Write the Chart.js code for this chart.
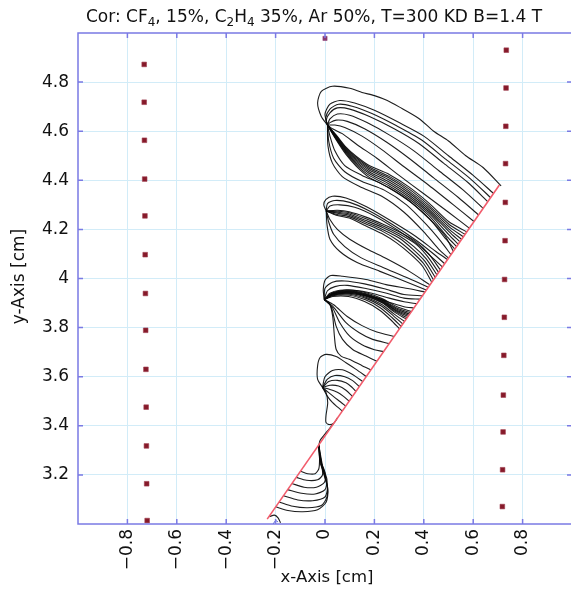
<!DOCTYPE html>
<html>
<head>
<meta charset="utf-8">
<title>Drift lines</title>
<script src="https://cdn.jsdelivr.net/npm/chart.js@4.4.1/dist/chart.umd.min.js"></script>
<style>
  html, body { margin: 0; padding: 0; background: #fff; overflow: hidden; }
  #wrap { width: 580px; height: 600px; }
</style>
</head>
<body>
<div id="wrap"><canvas id="chart"></canvas></div>
<script>
// axis ticks and their labels
const xTicks = [-0.8, -0.6, -0.4, -0.2, 0, 0.2, 0.4, 0.6, 0.8];
const xTickLabels = ["\u22120.8", "\u22120.6", "\u22120.4", "\u22120.2", "0", "0.2", "0.4", "0.6", "0.8"];
const yTicks = [3.2, 3.4, 3.6, 3.8, 4, 4.2, 4.4, 4.6, 4.8];
const yTickLabels = ["3.2", "3.4", "3.6", "3.8", "4", "4.2", "4.4", "4.6", "4.8"];

// particle track (red line)
const trackX = [-0.234, 0.706];
const trackY = [3.02, 4.381];

// field / cathode wires
const leftWireX = [-0.732, -0.732, -0.731, -0.73, -0.729, -0.728, -0.727, -0.726, -0.725, -0.724, -0.723, -0.722, -0.72];
const leftWireY = [4.872, 4.718, 4.563, 4.405, 4.255, 4.097, 3.939, 3.789, 3.63, 3.476, 3.318, 3.164, 3.014];
const rightWireX = [0.734, 0.733, 0.732, 0.731, 0.73, 0.729, 0.727, 0.726, 0.724, 0.722, 0.721, 0.719, 0.718];
const rightWireY = [4.93, 4.776, 4.62, 4.468, 4.31, 4.154, 3.996, 3.842, 3.687, 3.525, 3.375, 3.221, 3.071];
const topWireX = [0.0];
const topWireY = [4.978];

// electron drift lines, one list of [x, y] per line, grouped by the anode they end on
const driftWire1 = [
  [[0.713,4.377],[0.64,4.452],[0.57,4.5],[0.5,4.56],[0.44,4.6],[0.38,4.652],[0.3,4.699],[0.25,4.726],[0.2,4.745],[0.15,4.758],[0.1,4.775],[0.03,4.783],[-0.015,4.762],[-0.03,4.715],[-0.015,4.66],[0.01,4.625]],
  [[0.682,4.347],[0.6,4.42],[0.5,4.5],[0.4,4.58],[0.3,4.635],[0.2,4.685],[0.12,4.715],[0.06,4.725],[0.02,4.71],[0.0,4.67],[0.01,4.625]],
  [[0.67,4.33],[0.59,4.405],[0.49,4.485],[0.39,4.565],[0.29,4.622],[0.19,4.672],[0.11,4.702],[0.055,4.71],[0.02,4.69],[0.003,4.655],[0.01,4.625]],
  [[0.659,4.313],[0.58,4.39],[0.48,4.47],[0.38,4.55],[0.28,4.61],[0.18,4.66],[0.1,4.69],[0.05,4.695],[0.02,4.675],[0.005,4.645],[0.01,4.625]],
  [[0.64,4.286],[0.56,4.36],[0.46,4.44],[0.36,4.52],[0.26,4.585],[0.17,4.635],[0.1,4.665],[0.05,4.67],[0.02,4.65],[0.01,4.625]],
  [[0.622,4.259],[0.54,4.33],[0.44,4.41],[0.34,4.49],[0.25,4.555],[0.16,4.61],[0.09,4.64],[0.045,4.645],[0.02,4.635],[0.01,4.625]],
  [[0.603,4.232],[0.52,4.3],[0.42,4.38],[0.32,4.455],[0.23,4.525],[0.15,4.58],[0.08,4.615],[0.04,4.625],[0.01,4.625]],
  [[0.584,4.205],[0.5,4.27],[0.4,4.345],[0.3,4.42],[0.21,4.49],[0.13,4.545],[0.07,4.59],[0.03,4.61],[0.01,4.625]],
  [[0.01,4.625],[0.045,4.585],[0.085,4.535],[0.126,4.498],[0.179,4.46],[0.26,4.424],[0.341,4.372],[0.422,4.306],[0.503,4.23],[0.574,4.19]],
  [[0.01,4.625],[0.045,4.582],[0.085,4.531],[0.126,4.493],[0.179,4.454],[0.26,4.416],[0.341,4.364],[0.422,4.297],[0.503,4.22],[0.567,4.18]],
  [[0.01,4.625],[0.045,4.58],[0.085,4.527],[0.126,4.487],[0.179,4.448],[0.26,4.409],[0.341,4.356],[0.422,4.289],[0.503,4.21],[0.56,4.17]],
  [[0.01,4.625],[0.045,4.577],[0.085,4.523],[0.126,4.482],[0.179,4.442],[0.26,4.401],[0.341,4.348],[0.422,4.28],[0.503,4.2],[0.553,4.16]],
  [[0.01,4.625],[0.045,4.574],[0.085,4.519],[0.126,4.476],[0.179,4.435],[0.26,4.393],[0.341,4.34],[0.422,4.272],[0.503,4.19],[0.546,4.15]],
  [[0.01,4.625],[0.045,4.571],[0.085,4.515],[0.126,4.47],[0.179,4.428],[0.26,4.385],[0.341,4.332],[0.422,4.264],[0.5,4.18],[0.539,4.14]],
  [[0.01,4.625],[0.045,4.568],[0.085,4.51],[0.126,4.464],[0.179,4.42],[0.26,4.377],[0.341,4.324],[0.422,4.255],[0.495,4.17],[0.533,4.13]],
  [[0.01,4.625],[0.045,4.565],[0.085,4.505],[0.126,4.458],[0.179,4.412],[0.26,4.369],[0.341,4.315],[0.422,4.245],[0.49,4.16],[0.526,4.12]],
  [[0.01,4.625],[0.02,4.58],[0.04,4.52],[0.08,4.46],[0.15,4.42],[0.23,4.385],[0.33,4.325],[0.42,4.245],[0.485,4.175],[0.52,4.11]],
  [[0.01,4.625],[0.015,4.56],[0.035,4.49],[0.08,4.435],[0.15,4.395],[0.24,4.36],[0.33,4.3],[0.41,4.22],[0.47,4.15],[0.51,4.097]],
  [[0.01,4.625],[0.012,4.54],[0.03,4.47],[0.07,4.415],[0.14,4.375],[0.23,4.335],[0.32,4.27],[0.4,4.19],[0.46,4.12],[0.5,4.083]]
];

const driftWire2 = [
  [[0.005,4.275],[-0.005,4.3],[0.004,4.322],[0.03,4.335],[0.085,4.328],[0.166,4.293],[0.26,4.239],[0.368,4.171],[0.449,4.11],[0.496,4.077]],
  [[0.005,4.275],[0.01,4.305],[0.04,4.318],[0.1,4.31],[0.18,4.275],[0.27,4.222],[0.37,4.155],[0.44,4.1],[0.485,4.06]],
  [[0.005,4.275],[0.02,4.295],[0.06,4.3],[0.12,4.29],[0.2,4.255],[0.29,4.2],[0.38,4.135],[0.44,4.08],[0.475,4.047]],
  [[0.005,4.275],[0.05,4.278],[0.098,4.272],[0.166,4.25],[0.233,4.222],[0.3,4.19],[0.368,4.15],[0.42,4.1],[0.467,4.035]],
  [[0.005,4.275],[0.05,4.274],[0.098,4.268],[0.166,4.243],[0.233,4.215],[0.3,4.182],[0.368,4.14],[0.415,4.09],[0.46,4.025]],
  [[0.005,4.275],[0.05,4.27],[0.098,4.263],[0.166,4.236],[0.233,4.208],[0.3,4.174],[0.36,4.13],[0.41,4.08],[0.453,4.015]],
  [[0.005,4.275],[0.05,4.266],[0.098,4.258],[0.166,4.229],[0.233,4.2],[0.3,4.165],[0.355,4.12],[0.405,4.07],[0.446,4.005]],
  [[0.005,4.275],[0.045,4.262],[0.098,4.252],[0.166,4.222],[0.233,4.192],[0.295,4.155],[0.35,4.11],[0.4,4.06],[0.439,3.995]],
  [[0.005,4.275],[0.045,4.258],[0.098,4.246],[0.166,4.214],[0.23,4.183],[0.29,4.145],[0.345,4.1],[0.395,4.05],[0.432,3.985]],
  [[0.005,4.275],[0.02,4.24],[0.05,4.2],[0.1,4.16],[0.17,4.12],[0.25,4.08],[0.34,4.03],[0.425,3.974]],
  [[0.005,4.275],[0.015,4.23],[0.035,4.18],[0.08,4.13],[0.145,4.085],[0.235,4.045],[0.34,4.0],[0.418,3.964]],
  [[0.005,4.275],[0.008,4.22],[0.02,4.16],[0.06,4.11],[0.13,4.065],[0.22,4.03],[0.32,3.99],[0.41,3.953]]
];

const driftWire3 = [
  [[-0.003,3.914],[-0.007,3.955],[0.001,3.995],[0.024,4.012],[0.071,4.009],[0.166,3.996],[0.247,3.975],[0.341,3.958],[0.405,3.945]],
  [[-0.003,3.914],[0.0,3.96],[0.03,3.985],[0.08,3.99],[0.16,3.978],[0.24,3.958],[0.32,3.935],[0.395,3.93]],
  [[-0.003,3.914],[0.01,3.95],[0.04,3.967],[0.09,3.972],[0.17,3.958],[0.25,3.94],[0.32,3.92],[0.385,3.916]],
  [[-0.003,3.914],[0.02,3.94],[0.06,3.952],[0.12,3.952],[0.19,3.94],[0.26,3.92],[0.32,3.905],[0.372,3.897]],
  [[-0.003,3.914],[0.03,3.932],[0.08,3.94],[0.14,3.935],[0.21,3.92],[0.27,3.9],[0.32,3.885],[0.36,3.88]],
  [[-0.003,3.914],[0.031,3.942],[0.098,3.953],[0.166,3.942],[0.233,3.917],[0.29,3.886],[0.35,3.865]],
  [[-0.003,3.914],[0.031,3.941],[0.098,3.95],[0.166,3.938],[0.233,3.912],[0.288,3.881],[0.347,3.86]],
  [[-0.003,3.914],[0.031,3.94],[0.098,3.949],[0.166,3.936],[0.233,3.91],[0.287,3.877],[0.343,3.855]],
  [[-0.003,3.914],[0.031,3.939],[0.098,3.947],[0.166,3.934],[0.233,3.907],[0.286,3.873],[0.34,3.85]],
  [[-0.003,3.914],[0.031,3.938],[0.098,3.946],[0.166,3.932],[0.233,3.905],[0.285,3.87],[0.336,3.845]],
  [[-0.003,3.914],[0.031,3.937],[0.098,3.944],[0.166,3.93],[0.233,3.902],[0.284,3.866],[0.332,3.84]],
  [[-0.003,3.914],[0.031,3.936],[0.098,3.943],[0.166,3.928],[0.233,3.9],[0.283,3.862],[0.329,3.835]],
  [[-0.003,3.914],[0.031,3.934],[0.098,3.94],[0.166,3.924],[0.23,3.894],[0.28,3.855],[0.322,3.825]],
  [[-0.003,3.914],[0.031,3.932],[0.098,3.936],[0.166,3.919],[0.228,3.888],[0.277,3.848],[0.315,3.815]],
  [[-0.003,3.914],[0.031,3.93],[0.098,3.932],[0.164,3.913],[0.225,3.88],[0.272,3.84],[0.308,3.805]],
  [[-0.003,3.914],[0.031,3.927],[0.095,3.927],[0.16,3.906],[0.22,3.872],[0.266,3.832],[0.301,3.795]],
  [[-0.003,3.914],[0.035,3.893],[0.09,3.845],[0.15,3.808],[0.21,3.782],[0.28,3.764]],
  [[-0.003,3.914],[0.031,3.887],[0.085,3.82],[0.139,3.779],[0.193,3.752],[0.26,3.735]],
  [[-0.003,3.914],[0.028,3.885],[0.06,3.82],[0.1,3.765],[0.15,3.73],[0.2,3.71],[0.237,3.702]],
  [[-0.003,3.914],[0.024,3.887],[0.045,3.806],[0.071,3.752],[0.112,3.711],[0.166,3.684],[0.21,3.663]],
  [[-0.003,3.914],[0.017,3.901],[0.031,3.847],[0.038,3.766],[0.045,3.712],[0.065,3.684],[0.098,3.671],[0.152,3.644],[0.186,3.628]]
];

const driftWire4 = [
  [[-0.01,3.556],[-0.03,3.59],[-0.03,3.644],[-0.02,3.678],[0.004,3.691],[0.045,3.682],[0.085,3.657],[0.126,3.63],[0.167,3.601]],
  [[-0.01,3.556],[0.0,3.6],[0.03,3.625],[0.07,3.628],[0.11,3.61],[0.153,3.58]],
  [[-0.01,3.556],[0.01,3.59],[0.04,3.605],[0.08,3.6],[0.112,3.584],[0.139,3.56]],
  [[-0.01,3.556],[0.015,3.58],[0.05,3.585],[0.085,3.575],[0.108,3.558],[0.125,3.54]],
  [[-0.01,3.556],[0.02,3.565],[0.055,3.562],[0.085,3.545],[0.111,3.52]],
  [[-0.01,3.556],[0.02,3.548],[0.05,3.537],[0.075,3.52],[0.098,3.5]],
  [[-0.01,3.556],[0.015,3.535],[0.04,3.515],[0.062,3.498],[0.084,3.48]],
  [[-0.01,3.556],[0.01,3.52],[0.03,3.495],[0.05,3.477],[0.07,3.46]],
  [[-0.01,3.556],[0.004,3.536],[0.011,3.495],[0.004,3.441],[0.004,3.414],[0.017,3.405],[0.035,3.41],[0.05,3.431]]
];

const driftWire5 = [
  [[-0.099,3.215],[-0.07,3.205],[-0.04,3.205],[-0.025,3.225],[-0.022,3.27],[-0.025,3.32]],
  [[-0.117,3.19],[-0.075,3.178],[-0.03,3.18],[-0.01,3.2],[-0.015,3.25],[-0.022,3.29],[-0.025,3.32]],
  [[-0.134,3.165],[-0.085,3.15],[-0.035,3.15],[-0.002,3.17],[0.0,3.21],[-0.015,3.25],[-0.022,3.29],[-0.025,3.32]],
  [[-0.151,3.14],[-0.095,3.125],[-0.04,3.122],[0.0,3.14],[0.008,3.18],[-0.005,3.22],[-0.02,3.26],[-0.025,3.32]],
  [[-0.168,3.115],[-0.11,3.098],[-0.05,3.095],[0.0,3.11],[0.01,3.15],[0.0,3.2],[-0.02,3.25],[-0.025,3.32]],
  [[-0.186,3.09],[-0.13,3.072],[-0.07,3.066],[-0.015,3.075],[0.008,3.11],[0.008,3.16],[-0.01,3.22],[-0.025,3.32]],
  [[-0.199,3.07],[-0.15,3.055],[-0.09,3.05],[-0.03,3.058],[0.005,3.09],[0.012,3.14],[-0.005,3.21],[-0.025,3.32]],
  [[0.035,3.41],[0.015,3.385],[-0.005,3.36],[-0.02,3.34],[-0.025,3.32]],
  [[-0.225,3.03],[-0.205,3.036],[-0.19,3.025],[-0.18,3.005]]
];

// short stray segment near the track start
const strayLine = [[-0.21,3.0],[-0.2,3.015],[-0.19,3.008]];

const boxColor = "#7a7ae4";
const gridColor = "#d2ecf8";
const font = "DejaVu Sans";

function toPoints(xs, ys) {
  return xs.map((x, i) => ({ x: x, y: ys[i] }));
}

function driftDataset(line) {
  return {
    data: line.map(p => ({ x: p[0], y: p[1] })),
    showLine: true,
    pointRadius: 0,
    borderColor: "rgba(10,10,10,0.92)",
    borderWidth: 1.1,
    tension: 0.25,
    fill: false
  };
}

const datasets = [
  {
    data: toPoints(trackX, trackY),
    showLine: true,
    pointRadius: 0,
    borderColor: "#f25b6b",
    borderWidth: 1.6
  },
  {
    data: toPoints(leftWireX, leftWireY).concat(toPoints(rightWireX, rightWireY)),
    pointStyle: "rect",
    pointRadius: 3.3,
    backgroundColor: "#861a2a",
    borderColor: "#a04050",
    borderWidth: 0.6
  },
  {
    data: toPoints(topWireX, topWireY),
    pointStyle: "rect",
    pointRadius: 3,
    backgroundColor: "#8a3a70",
    borderColor: "#8a3a70",
    borderWidth: 0.5
  },
  {
    data: strayLine.map(p => ({ x: p[0], y: p[1] })),
    showLine: true,
    pointRadius: 0,
    borderColor: "#5a6ad0",
    borderWidth: 1
  }
];

[driftWire1, driftWire2, driftWire3, driftWire4, driftWire5].forEach(group => {
  group.forEach(line => datasets.push(driftDataset(line)));
});

// frame with inward ticks, title and axis titles
const framePlugin = {
  id: "frame",
  afterDraw(chart) {
    const ctx = chart.ctx;
    const a = chart.chartArea;
    const xs = chart.scales.x;
    const ys = chart.scales.y;
    ctx.save();
    ctx.strokeStyle = boxColor;
    ctx.lineWidth = 1.5;
    ctx.strokeRect(a.left, a.top, a.right - a.left, a.bottom - a.top);
    ctx.beginPath();
    xTicks.forEach(v => {
      const px = xs.getPixelForValue(v);
      ctx.moveTo(px, a.bottom); ctx.lineTo(px, a.bottom - 5);
      ctx.moveTo(px, a.top); ctx.lineTo(px, a.top + 5);
    });
    yTicks.forEach(v => {
      const py = ys.getPixelForValue(v);
      ctx.moveTo(a.left, py); ctx.lineTo(a.left + 5, py);
      ctx.moveTo(a.right, py); ctx.lineTo(a.right - 5, py);
    });
    ctx.stroke();

    // title, with chemical subscripts
    const parts = [["Cor: CF", 0], ["4", 1], [", 15%, C", 0], ["2", 1], ["H", 0], ["4", 1], [" 35%, Ar 50%, T=300 KD B=1.4 T", 0]];
    const big = "17px '" + font + "'";
    const small = "12px '" + font + "'";
    let total = 0;
    parts.forEach(p => { ctx.font = p[1] ? small : big; total += ctx.measureText(p[0]).width; });
    let cx = 314 - total / 2;
    ctx.fillStyle = "#111";
    ctx.textBaseline = "alphabetic";
    ctx.textAlign = "left";
    parts.forEach(p => {
      ctx.font = p[1] ? small : big;
      ctx.fillText(p[0], cx, p[1] ? 26 : 22);
      cx += ctx.measureText(p[0]).width;
    });

    ctx.textAlign = "center";
    ctx.textBaseline = "middle";
    ctx.font = "16.5px '" + font + "'";
    ctx.fillText("x-Axis [cm]", (a.left + a.right) / 2 + 2, 578);
    ctx.font = "17px '" + font + "'";
    ctx.translate(20, (a.top + a.bottom) / 2 - 2);
    ctx.rotate(-Math.PI / 2);
    ctx.fillText("y-Axis [cm]", 0, 0);
    ctx.restore();
  }
};

new Chart(document.getElementById("chart"), {
  type: "scatter",
  data: { datasets: datasets },
  options: {
    responsive: true,
    maintainAspectRatio: false,
    animation: false,
    events: [],
    layout: { padding: { top: 33, right: 8, left: 0, bottom: 0 } },
    plugins: {
      legend: { display: false },
      tooltip: { enabled: false },
      title: { display: false }
    },
    scales: {
      x: {
        type: "linear",
        min: -1,
        max: 1,
        afterBuildTicks: s => { s.ticks = xTicks.map(v => ({ value: v })); },
        afterFit: s => { s.height = 76; },
        ticks: {
          autoSkip: false,
          maxRotation: 90,
          minRotation: 90,
          padding: 5,
          color: "#111",
          font: { family: font, size: 17 },
          callback: (v, i) => xTickLabels[i]
        },
        grid: { color: gridColor, lineWidth: 1, drawTicks: false },
        border: { display: false }
      },
      y: {
        type: "linear",
        min: 3,
        max: 5,
        afterBuildTicks: s => { s.ticks = yTicks.map(v => ({ value: v })); },
        afterFit: s => { s.width = 78; },
        ticks: {
          padding: 9,
          color: "#111",
          font: { family: font, size: 17 },
          callback: (v, i) => yTickLabels[i]
        },
        grid: { color: gridColor, lineWidth: 1, drawTicks: false },
        border: { display: false }
      }
    }
  },
  plugins: [framePlugin]
});
</script>
</body>
</html>
